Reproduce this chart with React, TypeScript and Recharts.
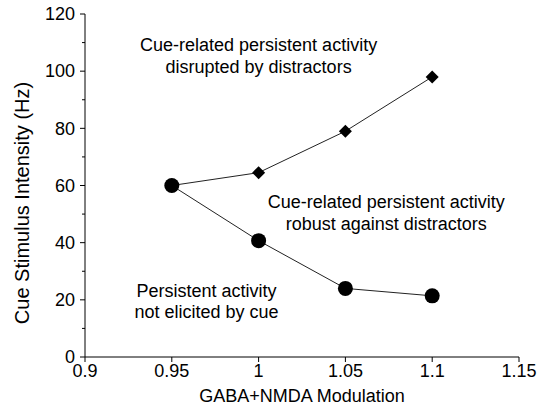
import React from "react";
import {
  LineChart,
  Line,
  XAxis,
  YAxis,
  ReferenceDot,
} from "recharts";

// GABA+NMDA modulation levels
const modulation = [0.95, 1.0, 1.05, 1.1];
// upper boundary: persistent activity disrupted by distractors (diamonds)
const disruptedThreshold = [60, 64.5, 79, 98];
// lower boundary: persistent activity not elicited by cue (circles)
const elicitedThreshold = [60, 40.7, 24, 21.4];

const xTicks = [0.9, 0.95, 1, 1.05, 1.1, 1.15];
const yTicks = [0, 10, 20, 30, 40, 50, 60, 70, 80, 90, 100, 110, 120];

const regionLabels = [
  ["Cue-related persistent activity", "disrupted by distractors"],
  ["Cue-related persistent activity", "robust against distractors"],
  ["Persistent activity", "not elicited by cue"],
];
const regionAnchorX = [1.0, 1.0735, 0.97];
const regionAnchorY = [107, 52.1, 21.0];

const FONT = "'Liberation Sans', Arial, Helvetica, sans-serif";
const INK = "#000";

const upper = modulation.map((x, i) => ({ x, y: disruptedThreshold[i] }));
const lower = modulation.map((x, i) => ({ x, y: elicitedThreshold[i] }));

function Diamond(props: any) {
  const { cx, cy, index } = props;
  // first point is shared with the circle series
  if (index === 0 || cx == null) return <g />;
  const s = 6.5;
  return (
    <polygon
      points={`${cx},${cy - s} ${cx + s},${cy} ${cx},${cy + s} ${cx - s},${cy}`}
      fill={INK}
    />
  );
}

function Circle(props: any) {
  const { cx, cy } = props;
  if (cx == null) return <g />;
  return <circle cx={cx} cy={cy} r={7.5} fill={INK} />;
}

function YTick(props: any) {
  const { x, y, payload } = props;
  const major = payload.value % 20 === 0;
  return (
    <g>
      <line x1={x - (major ? 5 : 3)} x2={x} y1={y} y2={y} stroke={INK} />
      {major && (
        <text
          x={x - 10}
          y={y}
          dy="0.35em"
          textAnchor="end"
          fontSize={18}
          fontFamily={FONT}
          fill={INK}
        >
          {payload.value}
        </text>
      )}
    </g>
  );
}

function regionText(lines: string[]) {
  return (props: any) => {
    const vb = props.viewBox || {};
    const cx = (vb.x ?? 0) + (vb.width ?? 0) / 2;
    const cy = (vb.y ?? 0) + (vb.height ?? 0) / 2;
    return (
      <text
        x={cx}
        y={cy}
        textAnchor="middle"
        fontSize={18}
        fontFamily={FONT}
        fill={INK}
      >
        {lines.map((t, i) => (
          <tspan key={i} x={cx} dy={i === 0 ? 0 : 21.5}>
            {t}
          </tspan>
        ))}
      </text>
    );
  };
}

export default function App() {
  return (
    <div
      style={{
        position: "absolute",
        left: 0,
        top: 0,
        width: 544,
        height: 407,
        background: "#fff",
      }}
    >
      <LineChart
        width={544}
        height={407}
        margin={{ top: 14, right: 25, bottom: 0, left: 0 }}
      >
        <XAxis
          type="number"
          dataKey="x"
          domain={[0.9, 1.15]}
          ticks={xTicks}
          allowDataOverflow
          height={50}
          stroke={INK}
          tickSize={5}
          tickMargin={2}
          tick={{ fill: INK, fontSize: 18, fontFamily: FONT }}
          label={(p: any) => {
            const vb = p.viewBox;
            return (
              <text
                x={vb.x + vb.width / 2}
                y={vb.y + 45}
                textAnchor="middle"
                fontSize={18}
                fontFamily={FONT}
                fill={INK}
              >
                GABA+NMDA Modulation
              </text>
            );
          }}
        />
        <YAxis
          type="number"
          dataKey="y"
          domain={[0, 120]}
          ticks={yTicks}
          interval={0}
          width={85}
          stroke={INK}
          tickSize={0}
          tickMargin={0}
          tickLine={false}
          tick={<YTick />}
          label={() => (
            <text
              x={22}
              y={203}
              transform="rotate(-90, 22, 203)"
              textAnchor="middle"
              dominantBaseline="central"
              fontSize={20}
              fontFamily={FONT}
              fill={INK}
            >
              Cue Stimulus Intensity (Hz)
            </text>
          )}
        />
        <Line
          data={upper}
          dataKey="y"
          stroke="#222"
          strokeWidth={1}
          dot={<Diamond />}
          activeDot={false}
          isAnimationActive={false}
        />
        <Line
          data={lower}
          dataKey="y"
          stroke="#222"
          strokeWidth={1}
          dot={<Circle />}
          activeDot={false}
          isAnimationActive={false}
        />
        {regionLabels.map((lines, i) => (
          <ReferenceDot
            key={i}
            x={regionAnchorX[i]}
            y={regionAnchorY[i]}
            r={0}
            fill="none"
            stroke="none"
            label={regionText(lines)}
          />
        ))}
      </LineChart>
    </div>
  );
}
